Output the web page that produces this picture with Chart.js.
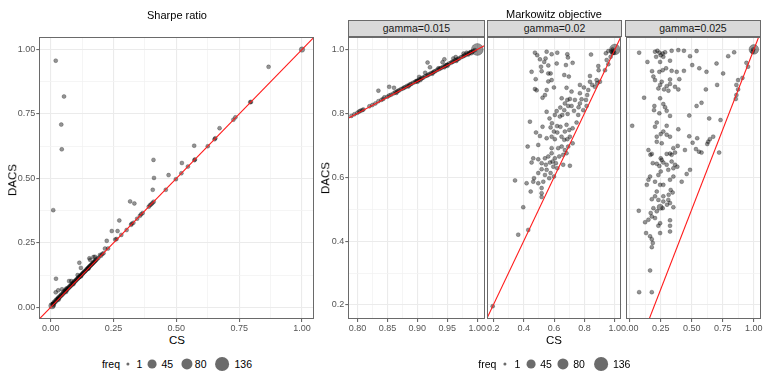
<!DOCTYPE html>
<html>
<head>
<meta charset="utf-8">
<script src="https://cdn.jsdelivr.net/npm/chart.js@4"></script>
<style>
  body { margin: 0; width: 768px; height: 384px; background: #fff; position: relative; overflow: hidden;
         font-family: "Liberation Sans", Arial, sans-serif; }
  canvas { position: absolute; top: 0; }
  .txt { position: absolute; white-space: nowrap; color: #000; transform: translate(-50%, -50%); line-height: 1; }
  .strip { position: absolute; top: 20px; height: 17px; background: #D9D9D9; border: 1px solid #6a6a6a;
           box-sizing: border-box; text-align: center; font-size: 10.5px; line-height: 15px; color: #1A1A1A; }
  .dot { position: absolute; border-radius: 50%; background: rgba(70,70,70,0.8); transform: translate(-50%, -50%); }
</style>
</head>
<body>
<canvas id="sharpe" width="320" height="334" style="left:0px"></canvas>
<canvas id="g015" width="175" height="334" style="left:320px"></canvas>
<canvas id="g02" width="155" height="334" style="left:477px"></canvas>
<canvas id="g025" width="155" height="334" style="left:615px"></canvas>

<script>
// ---- data: [CS, DACS, freq] (freq omitted = 1) ----
const sharpePts = [
  [0.02, 0.957], [0.053, 0.818], [0.042, 0.709], [0.044, 0.613], [0.01, 0.377], [0.021, 0.111],
  [0.867, 0.933], [1, 1, 6], [0.794, 0.796], [0.797, 0.797], [0.735, 0.737], [0.727, 0.728],
  [0.672, 0.695], [0.652, 0.652], [0.655, 0.656], [0.625, 0.625], [0.571, 0.627], [0.572, 0.571],
  [0.574, 0.574], [0.546, 0.546], [0.522, 0.56], [0.52, 0.52], [0.498, 0.497], [0.469, 0.513],
  [0.409, 0.572], [0.411, 0.502], [0.406, 0.456], [0.458, 0.456], [0.39, 0.39], [0.395, 0.396],
  [0.4, 0.4], [0.405, 0.405], [0.41, 0.41], [0.316, 0.411], [0.333, 0.403], [0.366, 0.366],
  [0.36, 0.361], [0.355, 0.355], [0.344, 0.344], [0.329, 0.328], [0.32, 0.32], [0.322, 0.324],
  [0.302, 0.3], [0.273, 0.337], [0.266, 0.296], [0.243, 0.296], [0.281, 0.281], [0.257, 0.263],
  [0.262, 0.265], [0.223, 0.258], [0.228, 0.228], [0.216, 0.228], [0.196, 0.203], [0.2, 0.2],
  [0.205, 0.207], [0.21, 0.21], [0.176, 0.196], [0.17, 0.195], [0.154, 0.19], [0.157, 0.184],
  [0.114, 0.173], [0.12, 0.153], [0.107, 0.125], [0.073, 0.102], [0.082, 0.102], [0.062, 0.073],
  [0.03, 0.066], [0.02, 0.058], [0.045, 0.07],
  [0.005, 0.006, 12], [0.008, 0.012], [0.01, 0.015], [0.012, 0.02], [0.015, 0.018], [0.018, 0.025],
  [0.02, 0.022], [0.022, 0.03], [0.025, 0.028], [0.028, 0.035], [0.03, 0.033], [0.032, 0.04],
  [0.035, 0.038], [0.038, 0.045], [0.04, 0.043], [0.042, 0.05], [0.045, 0.048], [0.048, 0.055],
  [0.05, 0.053], [0.052, 0.062], [0.055, 0.058], [0.058, 0.066], [0.06, 0.063], [0.063, 0.07],
  [0.065, 0.068], [0.068, 0.075], [0.07, 0.073], [0.073, 0.08], [0.075, 0.078], [0.078, 0.085],
  [0.08, 0.083], [0.083, 0.09], [0.085, 0.088], [0.088, 0.094], [0.09, 0.093], [0.093, 0.1],
  [0.095, 0.098], [0.098, 0.104], [0.1, 0.103], [0.103, 0.109], [0.105, 0.108], [0.108, 0.114],
  [0.11, 0.113], [0.113, 0.118], [0.115, 0.118], [0.118, 0.123], [0.12, 0.123], [0.123, 0.128],
  [0.125, 0.128], [0.128, 0.133], [0.13, 0.133], [0.133, 0.138], [0.135, 0.138], [0.138, 0.142],
  [0.14, 0.143], [0.143, 0.148], [0.145, 0.148], [0.148, 0.152], [0.15, 0.153], [0.153, 0.158],
  [0.155, 0.158], [0.158, 0.162], [0.16, 0.163], [0.163, 0.167], [0.165, 0.168], [0.168, 0.172],
  [0.17, 0.173], [0.173, 0.177], [0.175, 0.178], [0.178, 0.182], [0.18, 0.183], [0.185, 0.188],
  [0.19, 0.192], [0.01, 0.01, 5], [0.03, 0.031, 4], [0.06, 0.061, 3], [0.09, 0.091, 2],
  [0.12, 0.121, 2], [0.15, 0.151, 2]
];

const gamma015Pts = [
  [0.835, 0.871], [0.853, 0.883], [0.861, 0.88], [0.917, 0.959], [0.921, 0.944], [0.913, 0.927],
  [0.903, 0.914], [0.942, 0.96], [0.945, 0.969], [0.935, 0.941], [0.96, 0.972], [0.964, 0.976],
  [0.977, 0.987], [0.982, 0.99], [0.825, 0.826], [0.845, 0.85],
  [0.79, 0.792], [0.795, 0.797], [0.8, 0.802], [0.803, 0.806], [0.805, 0.808], [0.808, 0.81],
  [0.81, 0.812], [0.82, 0.822], [0.83, 0.831], [0.835, 0.838], [0.84, 0.842], [0.843, 0.845],
  [0.85, 0.852], [0.853, 0.856], [0.856, 0.858], [0.86, 0.862], [0.863, 0.866], [0.866, 0.868],
  [0.87, 0.872], [0.873, 0.876], [0.876, 0.878], [0.88, 0.882], [0.883, 0.886], [0.886, 0.888],
  [0.89, 0.892], [0.893, 0.896], [0.896, 0.898], [0.9, 0.902], [0.903, 0.906], [0.906, 0.908],
  [0.91, 0.912], [0.913, 0.916], [0.916, 0.918], [0.92, 0.922], [0.923, 0.926], [0.926, 0.928],
  [0.93, 0.932], [0.933, 0.936], [0.936, 0.938], [0.94, 0.942], [0.943, 0.946], [0.946, 0.948],
  [0.95, 0.952], [0.953, 0.956], [0.956, 0.958], [0.96, 0.962], [0.963, 0.966], [0.966, 0.968],
  [0.97, 0.972], [0.973, 0.976], [0.976, 0.978], [0.98, 0.982], [0.983, 0.986], [0.986, 0.988],
  [0.99, 0.992], [0.993, 0.995], [0.996, 0.998], [0.865, 0.864], [0.885, 0.884], [0.905, 0.904],
  [0.925, 0.924], [0.945, 0.944], [0.965, 0.964], [0.985, 0.984],
  [0.868, 0.871], [0.878, 0.881], [0.888, 0.891], [0.898, 0.901], [0.908, 0.911], [0.918, 0.921],
  [0.928, 0.931], [0.938, 0.941], [0.948, 0.951], [0.958, 0.961], [0.968, 0.971], [0.978, 0.981],
  [0.988, 0.991], [0.9, 0.9, 3], [0.95, 0.95, 3], [0.99, 0.99, 4], [1, 1, 80]
];

const gamma02Pts = [
  [0.474, 0.99], [0.489, 0.982], [0.551, 0.993], [0.584, 0.985], [0.621, 0.99], [0.687, 0.985],
  [0.691, 0.975], [0.843, 0.984], [0.507, 0.969], [0.535, 0.961], [0.544, 0.972], [0.617, 0.956],
  [0.562, 0.95], [0.514, 0.946], [0.722, 0.958], [0.678, 0.951], [0.452, 0.93], [0.518, 0.932],
  [0.562, 0.925], [0.577, 0.925], [0.479, 0.907], [0.562, 0.9], [0.584, 0.904], [0.667, 0.92],
  [0.697, 0.915], [0.474, 0.876], [0.485, 0.872], [0.524, 0.849], [0.54, 0.857], [0.682, 0.88],
  [0.599, 0.881], [0.551, 0.873], [0.77, 0.889], [0.836, 0.917], [0.891, 0.948], [0.893, 0.935],
  [0.935, 0.935], [0.957, 0.954], [0.946, 0.967], [0.972, 0.977], [0.985, 0.988], [0.941, 0.988],
  [0.957, 0.995], [0.978, 0.993], [0.902, 0.899], [0.88, 0.904], [0.869, 0.883], [0.851, 0.889],
  [0.825, 0.873], [0.818, 0.857], [0.81, 0.842], [0.781, 0.844], [0.77, 0.831], [0.814, 0.823],
  [0.792, 0.81], [0.759, 0.795], [0.761, 0.819], [0.731, 0.808], [0.704, 0.845], [0.687, 0.842],
  [0.65, 0.847], [0.715, 0.823], [0.693, 0.823], [0.667, 0.81], [0.641, 0.818], [0.617, 0.807],
  [0.605, 0.795], [0.654, 0.795], [0.689, 0.798], [0.551, 0.805], [0.441, 0.774], [0.577, 0.756],
  [0.62, 0.76], [0.682, 0.764], [0.7, 0.748], [0.671, 0.743], [0.748, 0.771], [0.722, 0.753],
  [0.621, 0.74], [0.481, 0.74], [0.507, 0.729], [0.551, 0.722], [0.584, 0.727], [0.605, 0.719],
  [0.649, 0.727], [0.667, 0.717], [0.687, 0.719], [0.704, 0.727], [0.722, 0.706], [0.693, 0.696],
  [0.671, 0.685], [0.65, 0.696], [0.627, 0.691], [0.584, 0.691], [0.496, 0.701], [0.426, 0.696],
  [0.682, 0.675], [0.66, 0.67], [0.634, 0.665], [0.605, 0.659], [0.59, 0.649], [0.612, 0.644],
  [0.595, 0.633], [0.573, 0.646], [0.546, 0.639], [0.518, 0.644], [0.496, 0.656], [0.463, 0.659],
  [0.452, 0.646], [0.518, 0.625], [0.551, 0.623], [0.577, 0.613], [0.599, 0.602], [0.568, 0.597],
  [0.54, 0.607], [0.496, 0.613], [0.468, 0.597], [0.463, 0.586], [0.496, 0.581], [0.529, 0.586],
  [0.419, 0.581], [0.343, 0.59], [0.518, 0.566], [0.518, 0.55], [0.518, 0.538], [0.446, 0.555],
  [0.704, 0.636], [0.66, 0.639], [0.621, 0.628], [0.397, 0.506], [0.43, 0.435], [0.364, 0.42],
  [0.196, 0.196], [0.584, 0.675], [0.562, 0.665], [0.54, 0.659], [0.642, 0.758], [0.599, 0.743],
  [0.77, 0.863], [0.796, 0.881], [0.836, 0.899], [0.884, 0.894], [0.715, 0.868], [0.737, 0.842],
  [0.671, 0.831], [0.638, 0.79], [0.57, 0.784], [0.586, 0.769], [0.524, 0.758],
  [0.99, 0.995], [0.995, 0.99], [0.985, 1.0], [1, 1, 60]
];

const gamma025Pts = [
  [0.075, 0.99], [0.203, 0.993], [0.222, 0.996], [0.238, 0.99], [0.265, 0.9875], [0.284, 0.991],
  [0.249, 0.982], [0.27, 0.977], [0.212, 0.977], [0.337, 0.996], [0.391, 0.998], [0.436, 0.996],
  [0.538, 0.995], [0.485, 0.979], [0.793, 0.979], [0.841, 0.991],
  [0.142, 0.961], [0.244, 0.961], [0.324, 0.965], [0.503, 0.951], [0.56, 0.941], [0.699, 0.956],
  [0.94, 0.958], [0.953, 0.946], [0.179, 0.932], [0.238, 0.93], [0.265, 0.935], [0.292, 0.941],
  [0.337, 0.933], [0.378, 0.93], [0.436, 0.933], [0.618, 0.93], [0.752, 0.925], [0.19, 0.915],
  [0.203, 0.904], [0.257, 0.899], [0.324, 0.906], [0.399, 0.907], [0.873, 0.904], [0.908, 0.911],
  [0.244, 0.889], [0.297, 0.885], [0.324, 0.892], [0.364, 0.883], [0.23, 0.878], [0.276, 0.875],
  [0.311, 0.871], [0.391, 0.875], [0.613, 0.875], [0.704, 0.889], [0.859, 0.889], [0.873, 0.875],
  [0.115, 0.849], [0.244, 0.847], [0.859, 0.857], [0.854, 0.845], [0.578, 0.833], [0.538, 0.823],
  [0.198, 0.823], [0.27, 0.829], [0.284, 0.819], [0.297, 0.808], [0.195, 0.81], [0.238, 0.8],
  [0.324, 0.792], [0.479, 0.793], [0.64, 0.784], [0.731, 0.779], [0.019, 0.761], [0.217, 0.771],
  [0.297, 0.761], [0.203, 0.758], [0.391, 0.75], [0.27, 0.743], [0.249, 0.735], [0.297, 0.733],
  [0.324, 0.727], [0.217, 0.727], [0.479, 0.728], [0.672, 0.727], [0.543, 0.722], [0.506, 0.708],
  [0.632, 0.711], [0.645, 0.719], [0.624, 0.704], [0.15, 0.685], [0.166, 0.67], [0.177, 0.673],
  [0.217, 0.711], [0.257, 0.706], [0.351, 0.691], [0.386, 0.698], [0.444, 0.685], [0.533, 0.688],
  [0.557, 0.68], [0.578, 0.677], [0.72, 0.677], [0.324, 0.674], [0.297, 0.673], [0.337, 0.67],
  [0.364, 0.677], [0.249, 0.659], [0.257, 0.654], [0.185, 0.644], [0.217, 0.642], [0.238, 0.635],
  [0.27, 0.646], [0.297, 0.639], [0.337, 0.649], [0.364, 0.639], [0.383, 0.633], [0.351, 0.628],
  [0.31, 0.623], [0.249, 0.618], [0.23, 0.607], [0.163, 0.602], [0.15, 0.592], [0.137, 0.576],
  [0.203, 0.586], [0.244, 0.576], [0.27, 0.576], [0.324, 0.592], [0.351, 0.602], [0.418, 0.586],
  [0.458, 0.61], [0.485, 0.623], [0.329, 0.56], [0.345, 0.552], [0.313, 0.545], [0.27, 0.54],
  [0.217, 0.555], [0.203, 0.54], [0.177, 0.531], [0.23, 0.529], [0.27, 0.524], [0.31, 0.529],
  [0.324, 0.519], [0.244, 0.506, 10], [0.265, 0.503], [0.3, 0.514], [0.351, 0.506], [0.19, 0.503],
  [0.217, 0.493], [0.168, 0.488], [0.072, 0.495], [0.15, 0.467], [0.177, 0.477], [0.203, 0.472],
  [0.123, 0.459], [0.244, 0.456], [0.23, 0.448], [0.324, 0.465], [0.324, 0.448], [0.324, 0.43],
  [0.244, 0.425], [0.131, 0.425], [0.163, 0.415], [0.177, 0.406], [0.185, 0.394], [0.177, 0.381],
  [0.163, 0.308], [0.075, 0.24], [0.177, 0.24],
  [0.99, 0.993], [0.995, 1.0], [1, 1, 45]
];

// axis ticks (major = labelled, minor = grid only)
const sharpeMajor = [0, 0.25, 0.5, 0.75, 1];
const sharpeMinor = [0.125, 0.375, 0.625, 0.875];
const dacsMajor = [0.2, 0.4, 0.6, 0.8, 1.0];
const dacsMinor = [0.3, 0.5, 0.7, 0.9];
const g015Major = [0.8, 0.85, 0.9, 0.95, 1.0];
const g015Minor = [0.825, 0.875, 0.925, 0.975];
const g02Major = [0.2, 0.4, 0.6, 0.8, 1.0];
const g02Minor = [0.3, 0.5, 0.7, 0.9];
const g025Major = [0, 0.25, 0.5, 0.75, 1];
const g025Minor = [0.125, 0.375, 0.625, 0.875];
const legendFreq = [1, 45, 80, 136];

Chart.defaults.font.family = '"Liberation Sans", Arial, sans-serif';

function radius(f) {
  return 2.0 + 5.3 * (Math.sqrt(f) - 1) / (Math.sqrt(136) - 1);
}

const boxPlugin = {
  id: 'box',
  afterDraw(chart) {
    const a = chart.chartArea, ctx = chart.ctx;
    ctx.save();
    ctx.strokeStyle = '#6a6a6a';
    ctx.lineWidth = 1;
    ctx.strokeRect(Math.round(a.left) + 0.5, Math.round(a.top) + 0.5,
                   Math.round(a.right - a.left) - 1, Math.round(a.bottom - a.top) - 1);
    ctx.restore();
  }
};

function axis(major, minor, min, max, digits, showLabels, size) {
  return {
    type: 'linear', min: min, max: max,
    afterBuildTicks: s => { s.ticks = major.concat(minor).sort((a, b) => a - b).map(v => ({ value: v })); },
    afterFit: s => {
      if (s.isHorizontal()) s.height = size; else s.width = size;
    },
    ticks: {
      display: showLabels, autoSkip: false, maxRotation: 0, color: '#555555', padding: 1,
      font: { size: 9 },
      callback: v => major.includes(v) ? v.toFixed(digits) : ''
    },
    grid: {
      color: c => (c.tick && major.includes(c.tick.value)) ? '#EBEBEB' : '#F3F3F3',
      lineWidth: c => (c.tick && major.includes(c.tick.value)) ? 1.1 : 0.8,
      tickColor: c => (c.tick && major.includes(c.tick.value)) ? '#6a6a6a' : 'rgba(0,0,0,0)',
      tickLength: 3, drawTicks: showLabels
    },
    border: { display: false }
  };
}

function makePanel(id, pts, xAxis, yAxis, pad) {
  new Chart(document.getElementById(id), {
    type: 'scatter',
    data: {
      datasets: [
        { type: 'line', data: [{ x: -1, y: -1 }, { x: 2, y: 2 }], borderColor: '#FF1A1A',
          borderWidth: 1.1, pointRadius: 0, order: 0 },
        { data: pts.map(p => ({ x: p[0], y: p[1], f: p[2] || 1 })),
          backgroundColor: 'rgba(0,0,0,0.42)', borderColor: 'rgba(0,0,0,0.3)', borderWidth: 0.8,
          pointRadius: c => radius(c.raw ? c.raw.f : 1), order: 1 }
      ]
    },
    options: {
      responsive: false, animation: false, events: [],
      layout: { padding: pad },
      plugins: { legend: { display: false }, tooltip: { enabled: false } },
      scales: { x: xAxis, y: yAxis }
    },
    plugins: [boxPlugin]
  });
}

makePanel('sharpe', sharpePts,
  axis(sharpeMajor, sharpeMinor, -0.0454, 1.0478, 2, true, 15),
  axis(sharpeMajor, sharpeMinor, -0.0453, 1.0488, 2, true, 39.3),
  { left: 0, top: 37, right: 6, bottom: 0 });

makePanel('g015', gamma015Pts,
  axis(g015Major, g015Minor, 0.7848, 1.0128, 2, true, 15),
  axis(dacsMajor, dacsMinor, 0.156, 1.039, 1, true, 28.3),
  { left: 0, top: 37, right: 10, bottom: 0 });

makePanel('g02', gamma02Pts,
  axis(g02Major, g02Minor, 0.1605, 1.045, 1, true, 15),
  axis(dacsMajor, dacsMinor, 0.156, 1.039, 1, false, 0),
  { left: 10.3, top: 37, right: 10.3, bottom: 0 });

makePanel('g025', gamma025Pts,
  axis(g025Major, g025Minor, -0.035, 1.0535, 2, true, 15),
  axis(dacsMajor, dacsMinor, 0.156, 1.039, 1, false, 0),
  { left: 10.5, top: 37, right: 9.5, bottom: 0 });

// ---- text, strips, legends ----
function addText(str, x, y, size, extra) {
  const d = document.createElement('div');
  d.className = 'txt';
  d.textContent = str;
  d.style.left = x + 'px';
  d.style.top = y + 'px';
  d.style.fontSize = size + 'px';
  if (extra) d.style.transform = 'translate(-50%, -50%) ' + extra;
  document.body.appendChild(d);
}

function addStrip(label, left, right) {
  const d = document.createElement('div');
  d.className = 'strip';
  d.textContent = label;
  d.style.left = left + 'px';
  d.style.width = (right - left) + 'px';
  document.body.appendChild(d);
}

function addLegend(xs) {
  const y = 364;
  addText('freq', xs[0], y, 10.5);
  legendFreq.forEach((f, i) => {
    const r = radius(f) - 0.4;
    const d = document.createElement('div');
    d.className = 'dot';
    d.style.left = xs[1 + i * 2] + 'px';
    d.style.top = y + 'px';
    d.style.width = (2 * r) + 'px';
    d.style.height = (2 * r) + 'px';
    document.body.appendChild(d);
    addText(String(f), xs[2 + i * 2], y, 10.5);
  });
}

addText('Sharpe ratio', 177, 15, 11);
addText('Markowitz objective', 554, 14, 11);
addStrip('gamma=0.015', 348, 485);
addStrip('gamma=0.02', 487, 622);
addStrip('gamma=0.025', 625, 761);
addText('DACS', 13, 180, 11.5, 'rotate(-90deg)');
addText('DACS', 326, 178, 11.5, 'rotate(-90deg)');
addText('CS', 177, 341, 11.5);
addText('CS', 554, 341, 11.5);
addLegend([111, 128, 139.3, 152, 167.3, 186.7, 200.7, 222.3, 243.3]);
addLegend([487.3, 505.3, 517.3, 530.7, 546, 563.3, 579, 601, 621.7]);
</script>
</body>
</html>
